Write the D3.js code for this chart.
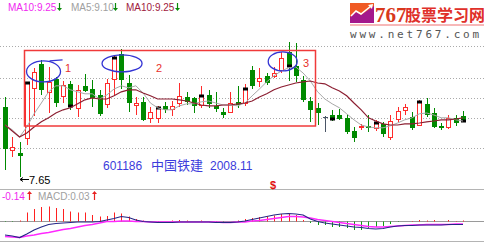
<!DOCTYPE html>
<html>
<head>
<meta charset="utf-8">
<script src="https://cdn.jsdelivr.net/npm/d3@7"></script>
<style>
  body { margin: 0; background: #fff; }
  svg { display: block; }
</style>
</head>
<body>
<div id="chart"></div>
<script>
// daily candles, 601186, around Nov 2008
const opens = [9.41, 8.30, 8.25, 8.60, 9.85, 10.48, 9.75, 10.10, 9.65, 9.98,
               9.35, 9.93, 9.85, 9.70, 9.45, 10.08, 10.73, 10.00, 9.43, 9.53,
               9.10, 9.10, 9.43, 9.33, 9.48, 9.65, 9.63, 9.43, 9.70, 9.43,
               9.28, 9.25, 9.53, 9.48, 10.33, 10.03, 10.18, 10.15, 10.30, 10.78,
               10.43, 10.08, 9.55, 9.38, 9.15, 9.20, 9.20, 9.13, 8.80, 8.88,
               8.93, 8.85, 8.98, 8.63, 9.08, 9.30, 9.15, 8.93, 9.48, 9.25,
               8.93, 8.88, 9.13, 9.18];
const closes = [8.35, 8.40, 8.18, 10.00, 10.28, 9.83, 10.03, 9.50, 9.95, 9.43,
                9.83, 9.80, 9.63, 9.23, 10.00, 10.63, 10.08, 9.50, 9.50, 9.08,
                9.28, 9.38, 9.33, 9.43, 9.68, 9.53, 9.43, 9.68, 9.48, 9.35,
                9.20, 9.50, 9.45, 9.85, 9.93, 10.13, 10.00, 10.25, 10.63, 10.43,
                10.18, 9.58, 9.33, 9.25, 9.15, 9.10, 9.10, 8.78, 8.63, 8.93,
                8.88, 9.00, 8.73, 9.05, 9.30, 9.40, 8.88, 9.53, 9.20, 8.90,
                8.88, 9.13, 9.00, 9.05];
const highs = [9.65, 8.65, 8.53, 10.03, 10.38, 10.58, 10.40, 10.15, 10.05, 10.05,
               9.95, 10.23, 10.08, 9.83, 10.10, 10.70, 10.85, 10.20, 9.65, 9.65,
               9.40, 9.43, 9.53, 9.55, 10.00, 9.78, 9.65, 9.93, 9.83, 9.78,
               9.38, 9.78, 9.93, 9.98, 10.43, 10.38, 10.25, 10.40, 10.78, 11.03,
               11.00, 10.18, 9.65, 9.50, 9.18, 9.33, 9.35, 9.23, 8.90, 8.98,
               9.20, 9.08, 9.03, 9.20, 9.40, 9.48, 9.28, 9.58, 9.63, 9.38,
               9.00, 9.20, 9.20, 9.30];
const lows = [7.83, 8.15, 7.65, 8.45, 9.18, 9.70, 9.25, 9.40, 9.50, 9.33,
              9.15, 9.78, 9.40, 9.18, 9.38, 9.70, 9.85, 9.28, 9.20, 9.05,
              9.00, 9.00, 9.25, 9.18, 9.40, 9.45, 9.25, 9.38, 9.38, 9.28,
              9.13, 9.25, 9.38, 9.43, 9.85, 9.90, 9.95, 10.13, 10.25, 10.05,
              10.03, 9.53, 9.03, 8.95, 8.78, 9.05, 9.08, 8.73, 8.53, 8.83,
              8.78, 8.80, 8.65, 8.58, 9.03, 9.20, 8.83, 8.93, 9.15, 8.88,
              8.83, 8.85, 8.93, 9.03];

const ma5 = [8.95, 8.83, 8.65, 8.90, 9.23, 9.50, 9.78, 9.93, 9.93, 9.83,
             9.78, 9.73, 9.73, 9.60, 9.70, 9.85, 9.93, 9.88, 9.93, 9.75,
             9.50, 9.38, 9.33, 9.33, 9.43, 9.48, 9.48, 9.53, 9.55, 9.50,
             9.45, 9.45, 9.43, 9.50, 9.68, 9.85, 10.03, 10.18, 10.30, 10.38,
             10.40, 10.25, 10.05, 9.78, 9.60, 9.48, 9.38, 9.23, 9.08, 8.95,
             8.90, 8.88, 8.88, 8.93, 9.00, 9.08, 9.13, 9.23, 9.25, 9.20,
             9.13, 9.13, 9.08, 9.05];
const ma10 = [8.95, 8.80, 8.65, 8.75, 8.90, 9.03, 9.13, 9.25, 9.33, 9.38,
              9.48, 9.58, 9.63, 9.60, 9.60, 9.68, 9.78, 9.83, 9.83, 9.75,
              9.68, 9.60, 9.60, 9.60, 9.58, 9.55, 9.50, 9.45, 9.43, 9.43,
              9.45, 9.45, 9.48, 9.50, 9.55, 9.65, 9.73, 9.83, 9.90, 9.95,
              10.00, 10.03, 10.05, 10.00, 9.98, 9.88, 9.80, 9.68, 9.50, 9.33,
              9.13, 9.05, 8.98, 8.95, 8.95, 8.98, 8.98, 9.00, 9.03, 9.05,
              9.08, 9.08, 9.10, 9.13];

const difs = [-0.28, -0.30, -0.33, -0.26, -0.18, -0.12, -0.07, -0.05, -0.04, -0.03,
              -0.02, -0.02, -0.02, -0.01, 0.02, 0.05, 0.09, 0.07, 0.02, -0.01,
              -0.02, -0.03, -0.03, -0.03, -0.02, -0.02, -0.02, -0.02, -0.02, -0.03,
              -0.03, -0.03, -0.02, 0.00, 0.03, 0.06, 0.09, 0.12, 0.14, 0.15,
              0.14, 0.12, 0.04, -0.01, -0.04, -0.06, -0.08, -0.10, -0.12, -0.13,
              -0.15, -0.16, -0.15, -0.12, -0.10, -0.09, -0.09, -0.08, -0.08, -0.08,
              -0.08, -0.07, -0.07, -0.07];
const deas = [-0.31, -0.32, -0.33, -0.30, -0.28, -0.25, -0.23, -0.20, -0.17, -0.15,
              -0.12, -0.09, -0.07, -0.04, -0.01, -0.01, 0.00, 0.00, -0.01, -0.01,
              -0.02, -0.02, -0.02, -0.02, -0.02, -0.02, -0.02, -0.02, -0.02, -0.02,
              -0.03, -0.03, -0.02, -0.02, 0.00, 0.01, 0.03, 0.05, 0.07, 0.09,
              0.09, 0.08, 0.06, 0.03, 0.01, -0.01, -0.03, -0.05, -0.07, -0.09,
              -0.11, -0.12, -0.12, -0.11, -0.10, -0.09, -0.08, -0.08, -0.07, -0.07,
              -0.07, -0.07, -0.06, -0.06];
const macdBars = [-0.02, -0.02, 0.01, 0.17, 0.24, 0.28, 0.29, 0.26, 0.24, 0.19,
                  0.17, 0.17, 0.12, 0.09, 0.10, 0.17, 0.15, 0.09, 0.04, 0.01,
                  -0.01, -0.02, -0.01, 0.01, 0.02, 0.01, -0.01, 0.01, 0.00, -0.02,
                  -0.02, -0.01, 0.01, 0.04, 0.06, 0.08, 0.09, 0.11, 0.14, 0.14,
                  0.12, 0.02, -0.04, -0.08, -0.08, -0.12, -0.12, -0.14, -0.18, -0.18,
                  -0.14, -0.12, -0.10, -0.06, -0.02, -0.01, 0.00, 0.02, 0.01, 0.02,
                  -0.01, 0.02, 0.00, 0.01];

// price levels of the dotted grid
const gridPrices = [10.93, 10.13, 9.63, 9.13, 8.38];
// candles carrying the small black tick (every 6th day)
const markDays = [3, 9, 15, 21, 27, 33, 39, 45, 51, 57, 63];
// highlighted spots: day, price, label
const circles = [
  { day: 5.3, price: 10.29, rx: 17, ry: 10.5, label: "1", lx: 65, ly: 72 },
  { day: 16.1, price: 10.49, rx: 20, ry: 8.5, label: "2", lx: 156, ly: 72 },
  { day: 38.2, price: 10.54, rx: 14.5, ry: 9.5, label: "3", lx: 303, ly: 67 }
];

const width = 484, height = 243;
const upColor = "#ff2b2b", downColor = "#008a00";

const svg = d3.select("#chart")
              .append("svg")
              .attr("width", width)
              .attr("height", height)
              .style("font-family", "'Liberation Sans', Arial, sans-serif");

const x = d3.scaleLinear().domain([0, closes.length - 1]).range([5, 463]);
const y = d3.scaleLinear().domain([7.65, 11.075]).range([177, 40]);
const ym = d3.scaleLinear().domain([0, 0.3]).range([221, 206]);
const px = i => Math.round(x(i));

// grid
svg.selectAll(".grid")
   .data(gridPrices)
   .enter()
   .append("line")
   .attr("x1", 0).attr("x2", width)
   .attr("y1", d => Math.round(y(d)) + 0.5)
   .attr("y2", d => Math.round(y(d)) + 0.5)
   .attr("stroke", "#aaa")
   .attr("stroke-dasharray", "1,2");

// panel separators
[189.5, 241.5].forEach(v => {
    svg.append("line").attr("x1", 0).attr("x2", width).attr("y1", v).attr("y2", v)
       .attr("stroke", "#b4b4b4");
});

// candles
const candles = svg.append("g");
closes.forEach((c, i) => {
    const o = opens[i];
    const cx = px(i);
    const color = c > o ? upColor : (c < o ? downColor : "#4a5566");
    candles.append("line")
           .attr("x1", cx + 0.5).attr("x2", cx + 0.5)
           .attr("y1", Math.round(y(highs[i]))).attr("y2", Math.round(y(lows[i])))
           .attr("stroke", color);
    const top = Math.round(y(Math.max(o, c))), bot = Math.round(y(Math.min(o, c)));
    if (c > o) {
        candles.append("rect")
               .attr("x", cx - 1.5).attr("y", top + 0.5)
               .attr("width", 4).attr("height", Math.max(bot - top - 1, 1))
               .attr("fill", "#fff").attr("stroke", color);
    } else if (c < o) {
        candles.append("rect")
               .attr("x", cx - 2).attr("y", top)
               .attr("width", 5).attr("height", Math.max(bot - top, 1))
               .attr("fill", color);
    } else {
        candles.append("line")
               .attr("x1", cx - 2).attr("x2", cx + 3)
               .attr("y1", top + 0.5).attr("y2", top + 0.5)
               .attr("stroke", color);
    }
});

candles.selectAll(".mark")
       .data(markDays)
       .enter()
       .append("rect")
       .attr("x", d => px(d) - 2)
       .attr("y", d => Math.round(y(closes[d])) - 1.5)
       .attr("width", 5).attr("height", 3)
       .attr("fill", "#000");

// moving averages
const maLine = d3.line().x((d, i) => x(i)).y(d => y(d));
svg.append("path").datum(ma5)
   .attr("fill", "none").attr("stroke", "#a8a8a8").attr("stroke-width", 1)
   .attr("d", maLine);
svg.append("path").datum(ma10)
   .attr("fill", "none").attr("stroke", "#8c1f32").attr("stroke-width", 1.2)
   .attr("d", maLine);

// annotation box and ellipses
svg.append("rect")
   .attr("x", 24.5).attr("y", 50.5).attr("width", 291).attr("height", 75.5)
   .attr("fill", "none").attr("stroke", "#f03a3a").attr("stroke-width", 1.5);

circles.forEach(d => {
    svg.append("ellipse")
       .attr("cx", x(d.day)).attr("cy", y(d.price))
       .attr("rx", d.rx).attr("ry", d.ry)
       .attr("fill", "none").attr("stroke", "#3434d4").attr("stroke-width", 1.3);
    svg.append("text")
       .attr("x", d.lx).attr("y", d.ly)
       .attr("fill", "#e8302c").attr("font-size", 11)
       .text(d.label);
});
// tail on the first ellipse
const c0 = circles[0];
svg.append("path")
   .attr("d", `M${x(c0.day) + 6},${y(c0.price) - c0.ry} L${x(c0.day) + 19},${y(c0.price) - c0.ry - 1}`)
   .attr("stroke", "#3434d4").attr("stroke-width", 1.3).attr("fill", "none");

// lowest price note
svg.append("path")
   .attr("d", `M${px(2) + 9},179.5 L${px(2)},179.5 M${px(2) + 3},177.5 L${px(2)},179.5 L${px(2) + 3},181.5`)
   .attr("stroke", "#000").attr("fill", "none");
svg.append("text")
   .attr("x", px(2) + 9).attr("y", 183.5)
   .attr("font-size", 11).attr("fill", "#000")
   .text(d3.min(lows).toFixed(2));

// stock title
svg.append("text").attr("x", 103).attr("y", 170).attr("font-size", 12).attr("fill", "#3c3cdc").text("601186");
svg.append("text").attr("x", 151).attr("y", 170).attr("font-size", 13).attr("fill", "#3c3cdc")
   .style("font-family", "'Noto Sans CJK SC', sans-serif").text("中国铁建");
svg.append("text").attr("x", 210).attr("y", 170).attr("font-size", 12).attr("fill", "#3c3cdc").text("2008.11");

svg.append("text").attr("x", 270).attr("y", 189).attr("font-size", 11).attr("font-weight", "bold")
   .attr("fill", "#e01010").text("$");

// header
function arrow(cx, y1, y2, color) {
    const down = y2 > y1;
    const tip = y2, base = down ? y2 - 3 : y2 + 3;
    svg.append("line").attr("x1", cx).attr("x2", cx).attr("y1", y1).attr("y2", base)
       .attr("stroke", color).attr("stroke-width", 1.2);
    svg.append("path").attr("d", `M${cx - 2.5},${base} L${cx + 2.5},${base} L${cx},${tip} Z`)
       .attr("fill", color);
}
const header = [
    { text: "MA10:9.25", x: 8, color: "#f028f0", ax: 59.5 },
    { text: "MA5:9.10", x: 71, color: "#a0a0a0", ax: 115.5 },
    { text: "MA10:9.25", x: 126, color: "#a02040", ax: 177.5 }
];
header.forEach(h => {
    svg.append("text").attr("x", h.x).attr("y", 10.5).attr("font-size", 10)
       .attr("fill", h.color).text(h.text);
    arrow(h.ax, 3, 11, "#0a8a0a");
});

svg.append("text").attr("x", 2).attr("y", 200).attr("font-size", 10).attr("fill", "#f028f0").text("-0.14");
arrow(29.5, 200, 191, "#e82020");
svg.append("text").attr("x", 38).attr("y", 200).attr("font-size", 10).attr("fill", "#a0a0a0").text("MACD:0.03");
arrow(94.5, 200, 191, "#e82020");

// MACD panel
svg.append("line").attr("x1", 0).attr("x2", width)
   .attr("y1", Math.round(ym(0)) + 0.5).attr("y2", Math.round(ym(0)) + 0.5)
   .attr("stroke", "#9a9a9a");
svg.selectAll(".bar")
   .data(macdBars)
   .enter()
   .append("line")
   .attr("x1", (d, i) => px(i) + 0.5).attr("x2", (d, i) => px(i) + 0.5)
   .attr("y1", Math.round(ym(0)) + 0.5)
   .attr("y2", d => ym(d))
   .attr("stroke", d => d >= 0 ? "#ff2020" : "#109c10");
const macdLine = d3.line().x((d, i) => x(i)).y(d => ym(d));
svg.append("path").datum(deas)
   .attr("fill", "none").attr("stroke", "#ff28ff").attr("stroke-width", 1.3)
   .attr("d", macdLine);
svg.append("path").datum(difs)
   .attr("fill", "none").attr("stroke", "#262686").attr("stroke-width", 1.2)
   .attr("d", macdLine);

// site logo
const logo = svg.append("g");
logo.append("rect").attr("x", 350).attr("y", 3).attr("width", 24).attr("height", 20).attr("fill", "#f05a24");
logo.append("path").attr("d", "M350,23 L350,17 L356,12 L361,15 L374,6 L374,23 Z").attr("fill", "#a4188c");
logo.append("path").attr("d", "M351,16 L356,11 L361,14 L371,6").attr("stroke", "#fff")
    .attr("stroke-width", 1.5).attr("fill", "none");
logo.append("path").attr("d", "M368,5 L373,4 L372,9 Z").attr("fill", "#fff");
logo.append("text").attr("x", 375).attr("y", 22).attr("font-size", 21).attr("font-weight", "bold")
    .style("font-family", "'Liberation Serif', serif").attr("fill", "#d8381c").text("767");
logo.append("text").attr("x", 405).attr("y", 21).attr("font-size", 16).attr("font-weight", "bold")
    .style("font-family", "'Noto Sans CJK SC', sans-serif").attr("fill", "#e0302a").text("股票学习网");
logo.append("line").attr("x1", 350).attr("x2", 484).attr("y1", 25).attr("y2", 25)
    .attr("stroke", "#f4a0a0").attr("stroke-width", 1.5);
logo.append("text").attr("x", 350).attr("y", 38).attr("font-size", 11)
    .style("font-family", "'DejaVu Sans Mono', monospace").style("letter-spacing", "2.8px")
    .attr("fill", "#555").text("www.net767.com");
</script>
</body>
</html>
